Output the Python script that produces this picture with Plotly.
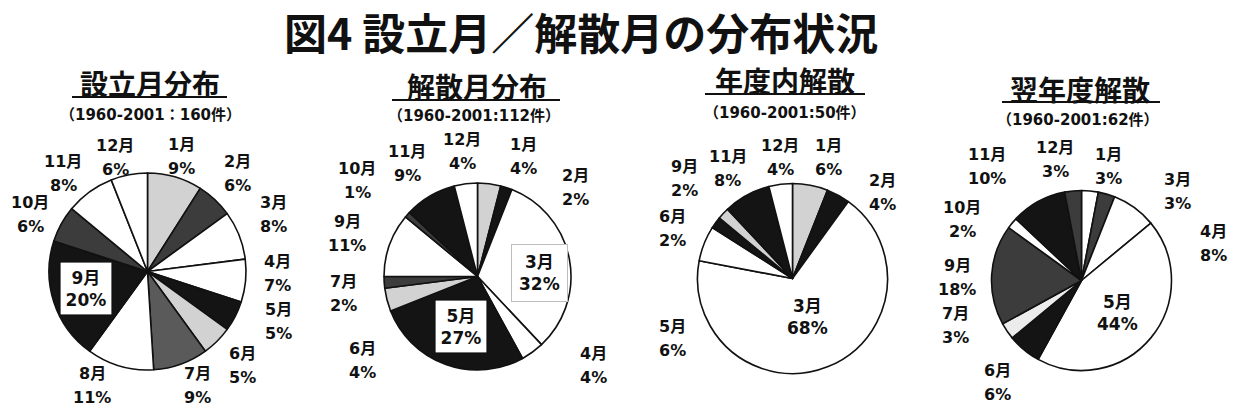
import plotly.graph_objects as go

W, H = 1240, 408

# ---------------- data ----------------
main_title = "図4 設立月／解散月の分布状況"
titles = ["設立月分布", "解散月分布", "年度内解散", "翌年度解散"]
counts = ["（1960-2001：160件）", "（1960-2001:112件）", "（1960-2001:50件）", "（1960-2001:62件）"]

est_months = ["1月", "2月", "3月", "4月", "5月", "6月", "7月", "8月", "9月", "10月", "11月", "12月"]
est_pct = [9, 6, 8, 7, 5, 5, 9, 11, 20, 6, 8, 6]

dis_months = ["1月", "2月", "3月", "4月", "5月", "6月", "7月", "9月", "10月", "11月", "12月"]
dis_pct = [4, 2, 32, 4, 27, 4, 2, 11, 1, 9, 4]

within_months = ["1月", "2月", "3月", "5月", "6月", "9月", "11月", "12月"]
within_pct = [6, 4, 68, 6, 2, 2, 8, 4]

next_months = ["1月", "3月", "4月", "5月", "6月", "7月", "9月", "10月", "11月", "12月"]
next_pct = [3, 3, 8, 44, 6, 3, 18, 2, 10, 3]

series = [(est_months, est_pct), (dis_months, dis_pct),
          (within_months, within_pct), (next_months, next_pct)]

# ---------------- styles / layout ----------------
K, D, M, L, Wt = "#141414", "#3c3c3c", "#5a5a5a", "#d2d2d2", "#ffffff"
fills = [
    [L, D, Wt, Wt, K, L, M, Wt, K, D, Wt, Wt],
    [L, K, Wt, Wt, K, L, D, Wt, D, K, Wt],
    [L, K, Wt, Wt, K, L, K, Wt],
    [Wt, D, Wt, Wt, K, "#ececec", D, Wt, K, D],
]
# pie centre (px from left, px from top) and radius
geom = [(147.5, 271.5, 98.5), (477.5, 276.5, 93.5), (792.5, 278.5, 95), (1081.5, 280.5, 90)]

# label placement (px) and style
label_pos = [
    {"1月": (182, 156), "2月": (237, 173), "3月": (273, 214), "4月": (277, 273), "5月": (278, 321),
     "6月": (243, 365), "7月": (197, 385), "8月": (92, 385), "9月": (86, 288, "box"),
     "10月": (30, 214), "11月": (63, 173), "12月": (115, 157)},
    {"1月": (523, 156), "2月": (575, 188), "3月": (539, 273, "faint"), "4月": (593, 365),
     "5月": (461, 326, "box"), "6月": (362, 360), "7月": (343, 293), "9月": (347, 233),
     "10月": (357, 180), "11月": (407, 163), "12月": (462, 151)},
    {"1月": (828, 158), "2月": (883, 192), "3月": (807, 317, "plain"), "5月": (672, 338),
     "6月": (672, 228), "9月": (685, 178), "11月": (728, 168), "12月": (780, 158)},
    {"1月": (1108, 166), "3月": (1177, 191), "4月": (1213, 243), "5月": (1117, 313, "plain"),
     "6月": (997, 382), "7月": (955, 325), "9月": (957, 277), "10月": (962, 219),
     "11月": (987, 166), "12月": (1055, 160)},
]
title_pos = [(150, 83, 72, 227, 97), (477, 86, 392, 560, 100), (785, 80, 705, 865, 94), (1080, 89, 1002, 1160, 102)]
count_pos = [(150, 115), (474, 116), (785, 113), (1078, 120)]

FONT = "Noto Sans CJK JP"
LFONT = "DejaVu Sans, Noto Sans CJK JP"


def px(x, y):
    return x / W, 1 - y / H


fig = go.Figure()
annotations = []
shapes = []

for i, ((months, pct), (cx, cy, r)) in enumerate(zip(series, geom)):
    fig.add_trace(go.Pie(
        labels=months, values=pct, sort=False, direction="clockwise", rotation=0,
        marker=dict(colors=fills[i], line=dict(color="#111111", width=1.6)),
        textinfo="none", hoverinfo="skip", showlegend=False,
        domain=dict(x=[(cx - r) / W, (cx + r) / W], y=[(H - cy - r) / H, (H - cy + r) / H]),
    ))
    for m, v in zip(months, pct):
        p = label_pos[i][m]
        x, y = px(p[0], p[1])
        style = p[2] if len(p) > 2 else "out"
        if style == "out":
            for txt, dy in ((m, -12), (f"{v}%", 12)):
                annotations.append(dict(x=x, y=y, xref="paper", yref="paper", text=txt, showarrow=False,
                                        xanchor="center", yanchor="middle", yshift=-dy,
                                        font=dict(family=LFONT, size=16, color="#111", weight="bold")))
        else:
            box = dict(box=dict(bgcolor="white", bordercolor="#111", borderwidth=1.6, borderpad=5),
                       faint=dict(bgcolor="white", bordercolor="#bdbdbd", borderwidth=1, borderpad=7),
                       plain=dict(bgcolor="rgba(0,0,0,0)", bordercolor="rgba(0,0,0,0)", borderwidth=0, borderpad=0))[style]
            annotations.append(dict(x=x, y=y, xref="paper", yref="paper", text=f"{m}<br>{v}%", showarrow=False,
                                    xanchor="center", yanchor="middle",
                                    font=dict(family=LFONT, size=17, color="#111", weight="bold"), **box))

    tx, ty, ux0, ux1, uy = title_pos[i]
    x, y = px(tx, ty)
    annotations.append(dict(x=x, y=y, xref="paper", yref="paper", text=titles[i], showarrow=False,
                            xanchor="center", yanchor="middle",
                            font=dict(family=FONT, size=28, color="#111", weight="bold")))
    shapes.append(dict(type="line", xref="paper", yref="paper", x0=ux0 / W, x1=ux1 / W,
                       y0=1 - uy / H, y1=1 - uy / H, line=dict(color="#111", width=2.2)))
    cxp, cyp = count_pos[i]
    x, y = px(cxp, cyp)
    annotations.append(dict(x=x, y=y, xref="paper", yref="paper", text=counts[i], showarrow=False,
                            xanchor="center", yanchor="middle",
                            font=dict(family=LFONT, size=15, color="#111", weight="bold")))

x, y = px(581, 31)
annotations.append(dict(x=x, y=y, xref="paper", yref="paper", text=main_title, showarrow=False,
                        xanchor="center", yanchor="middle",
                        font=dict(family=FONT, size=43, color="#111", weight="bold")))

fig.update_layout(width=W, height=H, autosize=False, margin=dict(l=0, r=0, t=0, b=0),
                  paper_bgcolor="white", plot_bgcolor="white",
                  annotations=annotations, shapes=shapes)

fig.write_html("out.html")
